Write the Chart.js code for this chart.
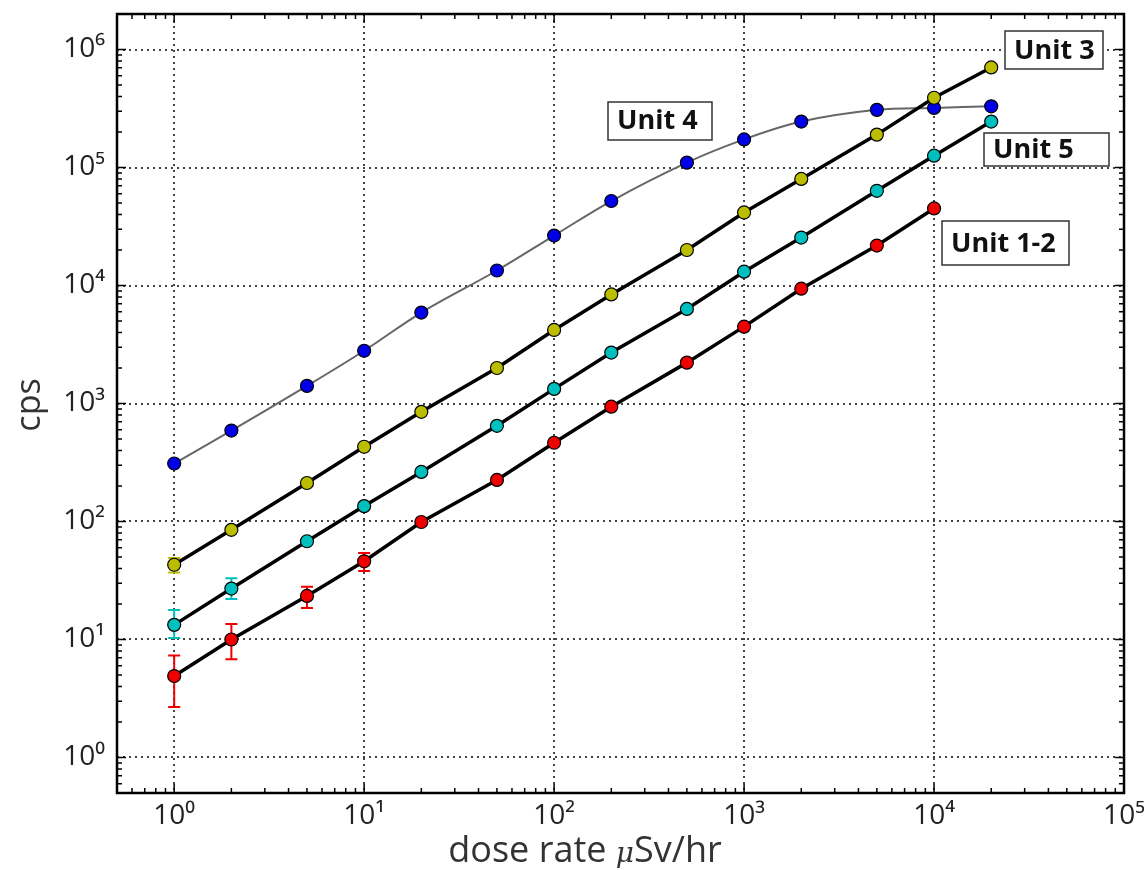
<!DOCTYPE html>
<html>
<head>
<meta charset="utf-8">
<script src="https://cdn.jsdelivr.net/npm/chart.js@4.4.0/dist/chart.umd.min.js"></script>
<style>
  html, body { margin: 0; padding: 0; background: #fff; }
  #wrap { width: 1144px; height: 870px; }
</style>
</head>
<body>
<div id="wrap"><canvas id="doseChart"></canvas></div>
<script>
// dose rate (uSv/hr) of each measurement
const doseRate = [1, 2, 5, 10, 20, 50, 100, 200, 500, 1000, 2000, 5000, 10000, 20000];

// counts per second
const unit4 = [310, 590, 1410, 2800, 5900, 13400, 26500, 52000, 110000, 173000, 245000, 308000, 320000, 330000];
const unit3 = [43, 85, 212, 430, 850, 2000, 4200, 8400, 20000, 41600, 80000, 190000, 390000, 705000];
const unit5 = [13.3, 27, 68, 135, 263, 647, 1330, 2700, 6330, 13100, 25500, 63500, 126000, 245000];
const unit12 = [4.9, 10, 23.4, 46, 99, 225, 465, 940, 2220, 4480, 9400, 21800, 45000];

// error bars (low / high), only the first points have visible ones
const unit3ErrLow = [37];
const unit3ErrHigh = [49];
const unit5ErrLow = [10.3, 22];
const unit5ErrHigh = [17.8, 33];
const unit12ErrLow = [2.68, 6.8, 18.5, 38];
const unit12ErrHigh = [7.3, 13.5, 28, 54];

const xTicks = [1, 10, 100, 1000, 10000, 100000];
const yTicks = [1, 10, 100, 1000, 10000, 100000, 1000000];
const unitNames = ['Unit 3', 'Unit 4', 'Unit 5', 'Unit 1-2'];

const supDigits = ['\u2070', '\u00b9', '\u00b2', '\u00b3', '\u2074', '\u2075', '\u2076'];

function pts(ys) {
    return ys.map((y, i) => ({ x: doseRate[i], y: y }));
}

// boxed labels, centre given in data coords
const boxes = [
    { text: unitNames[0], x: 42600, y: 982000, w: 98, h: 38 },
    { text: unitNames[1], x: 359, y: 250000, w: 104, h: 38 },
    { text: unitNames[2], x: 39100, y: 143500, w: 125, h: 33 },
    { text: unitNames[3], x: 23800, y: 22700, w: 127, h: 44 }
];

const errorBars = {
    0: { low: unit3ErrLow, high: unit3ErrHigh },
    2: { low: unit5ErrLow, high: unit5ErrHigh },
    3: { low: unit12ErrLow, high: unit12ErrHigh }
};

const errorBarPlugin = {
    id: 'errorBars',
    beforeDatasetsDraw(chart) {
        const ctx = chart.ctx;
        const xs = chart.scales.x, ys = chart.scales.y;
        Object.keys(errorBars).forEach(k => {
            const ds = chart.data.datasets[k];
            const eb = errorBars[k];
            ctx.save();
            ctx.strokeStyle = ds.pointBackgroundColor;
            ctx.lineWidth = 2;
            eb.low.forEach((lo, i) => {
                const px = xs.getPixelForValue(doseRate[i]);
                const y1 = ys.getPixelForValue(lo);
                const y2 = ys.getPixelForValue(eb.high[i]);
                ctx.beginPath();
                ctx.moveTo(px, y1); ctx.lineTo(px, y2);
                ctx.moveTo(px - 6, y1); ctx.lineTo(px + 6, y1);
                ctx.moveTo(px - 6, y2); ctx.lineTo(px + 6, y2);
                ctx.stroke();
            });
            ctx.restore();
        });
    }
};

const framePlugin = {
    id: 'frame',
    afterDraw(chart) {
        const ctx = chart.ctx;
        const a = chart.chartArea;
        const xs = chart.scales.x, ys = chart.scales.y;
        ctx.save();
        ctx.strokeStyle = '#000';
        ctx.lineWidth = 1.5;
        // minor + major ticks, inward on every side
        for (let k = -1; k <= 5; k++) {
            for (let m = 1; m <= 9; m++) {
                const v = m * Math.pow(10, k);
                if (v < xs.min || v > xs.max) continue;
                const px = xs.getPixelForValue(v);
                const len = m === 1 ? 9 : 5;
                ctx.beginPath();
                ctx.moveTo(px, a.bottom); ctx.lineTo(px, a.bottom - len);
                ctx.moveTo(px, a.top); ctx.lineTo(px, a.top + len);
                ctx.stroke();
            }
        }
        for (let k = -1; k <= 6; k++) {
            for (let m = 1; m <= 9; m++) {
                const v = m * Math.pow(10, k);
                if (v < ys.min || v > ys.max) continue;
                const py = ys.getPixelForValue(v);
                const len = m === 1 ? 9 : 5;
                ctx.beginPath();
                ctx.moveTo(a.left, py); ctx.lineTo(a.left + len, py);
                ctx.moveTo(a.right, py); ctx.lineTo(a.right - len, py);
                ctx.stroke();
            }
        }
        ctx.lineWidth = 2.5;
        ctx.strokeRect(a.left, a.top, a.right - a.left, a.bottom - a.top);

        // unit labels
        ctx.font = 'bold 27px "Open Sans", sans-serif';
        ctx.textBaseline = 'middle';
        ctx.textAlign = 'left';
        boxes.forEach(b => {
            const cx = xs.getPixelForValue(b.x);
            const cy = ys.getPixelForValue(b.y);
            const x0 = Math.round(cx - b.w / 2), y0 = Math.round(cy - b.h / 2);
            ctx.fillStyle = '#fff';
            ctx.fillRect(x0, y0, b.w, b.h);
            ctx.lineWidth = 1.5;
            ctx.strokeStyle = '#333';
            ctx.strokeRect(x0, y0, b.w, b.h);
            ctx.fillStyle = '#111';
            ctx.fillText(b.text, x0 + 9, cy + 1);
        });

        // axis titles
        ctx.fillStyle = '#333';
        const titleFont = '36px "Open Sans", sans-serif';
        const muFont = 'italic 28px "DejaVu Serif", serif';
        ctx.font = titleFont;
        ctx.textBaseline = 'alphabetic';
        const part1 = 'dose rate ';
        const part3 = 'Sv/hr';
        const w1 = ctx.measureText(part1).width;
        const w3 = ctx.measureText(part3).width;
        ctx.font = muFont;
        const w2 = ctx.measureText('\u03bc').width;
        const total = w1 + w2 + w3;
        const tx = 585 - total / 2;
        const base = 862;
        ctx.font = titleFont;
        ctx.fillText(part1, tx, base);
        ctx.font = muFont;
        ctx.fillText('\u03bc', tx + w1, base);
        ctx.font = titleFont;
        ctx.fillText(part3, tx + w1 + w2, base);

        ctx.translate(30, 405);
        ctx.rotate(-Math.PI / 2);
        ctx.textAlign = 'center';
        ctx.textBaseline = 'middle';
        ctx.font = '34px "Open Sans", sans-serif';
        ctx.fillText('cps', 0, 0);
        ctx.restore();
    }
};

function series(label, ys, fill, lineColor, lineWidth, tension) {
    return {
        label: label,
        data: pts(ys),
        borderColor: lineColor,
        borderWidth: lineWidth,
        tension: tension,
        pointRadius: 6.5,
        pointBackgroundColor: fill,
        pointBorderColor: '#000',
        pointBorderWidth: 1.2,
        fill: false
    };
}

function tickLabel(v) {
    const e = Math.round(Math.log10(v));
    return '10' + supDigits[e];
}

new Chart(document.getElementById('doseChart'), {
    type: 'line',
    data: {
        datasets: [
            series('Unit 3', unit3, '#bcbc00', '#000', 3.5, 0),
            series('Unit 4', unit4, '#0000e8', '#666', 2, 0.35),
            series('Unit 5', unit5, '#00bfbf', '#000', 3.5, 0),
            series('Unit 1-2', unit12, '#ee0000', '#000', 3.5, 0)
        ]
    },
    options: {
        responsive: true,
        maintainAspectRatio: false,
        animation: false,
        layout: { padding: { top: 14, right: 20, left: 0, bottom: 0 } },
        plugins: { legend: { display: false }, tooltip: { enabled: false } },
        scales: {
            x: {
                type: 'logarithmic',
                min: 0.5,
                max: 100000,
                afterBuildTicks: s => { s.ticks = xTicks.map(v => ({ value: v })); },
                afterFit: s => { s.height = 77; s.paddingLeft = 0; s.paddingRight = 0; },
                ticks: {
                    callback: tickLabel,
                    color: '#222',
                    font: { family: 'Open Sans', size: 28 },
                    padding: 6,
                    maxRotation: 0,
                    autoSkip: false
                },
                grid: { color: '#444', lineWidth: 2, drawTicks: false },
                border: { display: false, dash: [2, 4] }
            },
            y: {
                type: 'logarithmic',
                min: 0.5,
                max: 2000000,
                afterBuildTicks: s => { s.ticks = yTicks.map(v => ({ value: v })); },
                afterFit: s => { s.width = 117; s.paddingTop = 0; s.paddingBottom = 0; },
                ticks: {
                    callback: tickLabel,
                    color: '#222',
                    font: { family: 'Open Sans', size: 28 },
                    padding: 12,
                    autoSkip: false
                },
                grid: { color: '#444', lineWidth: 2, drawTicks: false },
                border: { display: false, dash: [2, 4] }
            }
        }
    },
    plugins: [errorBarPlugin, framePlugin]
});
</script>
</body>
</html>
